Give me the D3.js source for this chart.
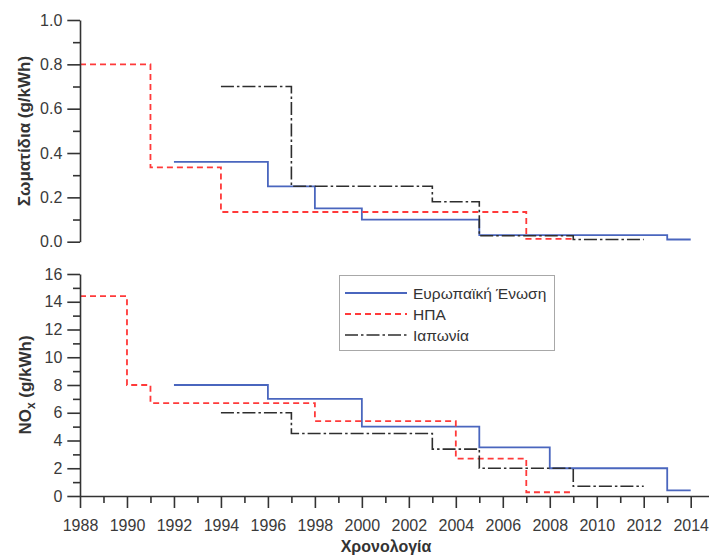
<!DOCTYPE html>
<html>
<head>
<meta charset="utf-8">
<script src="https://cdn.jsdelivr.net/npm/d3@7"></script>
<style>
  html, body { margin: 0; padding: 0; background: #fff; }
  svg { display: block; font-family: "Liberation Sans", Arial, sans-serif; }
</style>
</head>
<body>
<svg id="chart" width="709" height="556"></svg>
<script>
// Emission limits for heavy-duty diesel engines, step functions by year.
// Each series: years where a limit starts (last entry = end of last step) and the limit values.
const seriesNames = ["Ευρωπαϊκή Ένωση", "ΗΠΑ", "Ιαπωνία"];

// Particulate matter (g/kWh)
const pmYearsEU = [1992, 1996, 1998, 2000, 2005, 2013, 2014];
const pmValuesEU = [0.36, 0.25, 0.15, 0.10, 0.03, 0.01];
const pmYearsUS = [1988, 1991, 1994, 2007, 2009];
const pmValuesUS = [0.80, 0.335, 0.134, 0.013];
const pmYearsJP = [1994, 1997, 2003, 2005, 2009, 2012];
const pmValuesJP = [0.70, 0.25, 0.18, 0.027, 0.01];

// NOx (g/kWh)
const noxYearsEU = [1992, 1996, 2000, 2005, 2008, 2013, 2014];
const noxValuesEU = [8.0, 7.0, 5.0, 3.5, 2.0, 0.4];
const noxYearsUS = [1988, 1990, 1991, 1998, 2004, 2007, 2009];
const noxValuesUS = [14.4, 8.0, 6.7, 5.4, 2.7, 0.27];
const noxYearsJP = [1994, 1997, 2003, 2005, 2009, 2012];
const noxValuesJP = [6.0, 4.5, 3.38, 2.0, 0.7];

// Axis ticks
const yearTicksMajor = [1988, 1990, 1992, 1994, 1996, 1998, 2000, 2002, 2004, 2006, 2008, 2010, 2012, 2014];
const yearTicksMinor = [1989, 1991, 1993, 1995, 1997, 1999, 2001, 2003, 2005, 2007, 2009, 2011, 2013];
const pmTicksMajor = [0.0, 0.2, 0.4, 0.6, 0.8, 1.0];
const pmTicksMinor = [0.1, 0.3, 0.5, 0.7, 0.9];
const noxTicksMajor = [0, 2, 4, 6, 8, 10, 12, 14, 16];
const noxTicksMinor = [1, 3, 5, 7, 9, 11, 13, 15];

const styles = [
  { color: "#4a66be", dash: null, width: 1.8 },
  { color: "#ff3a3a", dash: "6,4", width: 1.8 },
  { color: "#2e2e2e", dash: "13,3,2.5,3", width: 1.6 }
];

const svg = d3.select("#chart");
const axisColor = "#333";

const x = d3.scaleLinear().domain([1988, 2014]).range([80, 690.7]);
const yPM = d3.scaleLinear().domain([0, 1]).range([241.7, 20]);
const yNOx = d3.scaleLinear().domain([0, 16]).range([496, 274]);

function stepPoints(years, values) {
  const pts = values.map((v, i) => [years[i], v]);
  pts.push([years[years.length - 1], values[values.length - 1]]);
  return pts;
}

function drawSeries(g, y, list) {
  const line = d3.line()
    .x(d => x(d[0]))
    .y(d => y(d[1]))
    .curve(d3.curveStepAfter);
  list.forEach((s, i) => {
    g.append("path")
      .attr("d", line(stepPoints(s[0], s[1])))
      .attr("fill", "none")
      .attr("stroke", styles[i].color)
      .attr("stroke-width", styles[i].width)
      .attr("stroke-dasharray", styles[i].dash)
      .attr("stroke-linejoin", "miter");
  });
}

function styleAxis(g) {
  g.selectAll("path.domain").attr("stroke", axisColor).attr("stroke-width", 1.6);
  g.selectAll(".tick line").attr("stroke", axisColor).attr("stroke-width", 1.6);
  g.selectAll(".tick text").attr("fill", "#3a3a3a").style("font-size", "16px")
    .style("font-family", "'Liberation Sans', Arial, sans-serif");
}

function yAxis(y, major, minor, fmt) {
  const gMin = svg.append("g").attr("transform", "translate(80,0)")
    .call(d3.axisLeft(y).tickValues(minor).tickSize(7).tickSizeOuter(0).tickFormat(""));
  styleAxis(gMin);
  gMin.select("path.domain").remove();
  const gMaj = svg.append("g").attr("transform", "translate(80,0)")
    .call(d3.axisLeft(y).tickValues(major).tickSize(12.7).tickSizeOuter(0).tickPadding(5).tickFormat(fmt));
  styleAxis(gMaj);
}

// Series (drawn first so axes sit on top)
drawSeries(svg.append("g"), yPM, [[pmYearsEU, pmValuesEU], [pmYearsUS, pmValuesUS], [pmYearsJP, pmValuesJP]]);
drawSeries(svg.append("g"), yNOx, [[noxYearsEU, noxValuesEU], [noxYearsUS, noxValuesUS], [noxYearsJP, noxValuesJP]]);

// Top panel axis
yAxis(yPM, pmTicksMajor, pmTicksMinor, d3.format(".1f"));
// Bottom panel axes
yAxis(yNOx, noxTicksMajor, noxTicksMinor, d3.format("d"));

const xExt = d3.scaleLinear().domain([1988, 2015]).range([80, 80 + (690.7 - 80) * 27 / 26]);
const gxMin = svg.append("g").attr("transform", "translate(0,496)")
  .call(d3.axisBottom(xExt).tickValues(yearTicksMinor).tickSize(7).tickSizeOuter(0).tickFormat(""));
styleAxis(gxMin);
gxMin.select("path.domain").remove();
const gxMaj = svg.append("g").attr("transform", "translate(0,496)")
  .call(d3.axisBottom(xExt).tickValues(yearTicksMajor).tickSize(12).tickSizeOuter(0).tickPadding(12).tickFormat(d3.format("d")));
styleAxis(gxMaj);

// Axis titles
svg.append("text")
  .attr("transform", "translate(30,131) rotate(-90)")
  .attr("text-anchor", "middle")
  .attr("fill", "#333")
  .style("font-weight", "bold").style("font-size", "17px")
  .text("Σωματίδια (g/kWh)");

const noxTitle = svg.append("text")
  .attr("transform", "translate(31,385) rotate(-90)")
  .attr("text-anchor", "middle")
  .attr("fill", "#333")
  .style("font-weight", "bold").style("font-size", "17px");
noxTitle.append("tspan").text("NO");
noxTitle.append("tspan").attr("dy", 4).style("font-size", "12px").text("x");
noxTitle.append("tspan").attr("dy", -4).text(" (g/kWh)");

svg.append("text")
  .attr("x", 386).attr("y", 552)
  .attr("text-anchor", "middle")
  .attr("fill", "#333")
  .style("font-weight", "bold").style("font-size", "16px")
  .text("Χρονολογία");

// Legend
const legend = svg.append("g");
legend.append("rect")
  .attr("x", 339.5).attr("y", 275.5).attr("width", 215).attr("height", 75)
  .attr("fill", "#fff").attr("stroke", "#a8a8a8").attr("stroke-width", 1);
seriesNames.forEach((name, i) => {
  const yy = 293 + i * 21;
  legend.append("line")
    .attr("x1", 345).attr("x2", 407).attr("y1", yy).attr("y2", yy)
    .attr("stroke", styles[i].color)
    .attr("stroke-width", styles[i].width)
    .attr("stroke-dasharray", styles[i].dash);
  legend.append("text")
    .attr("x", 413).attr("y", yy + 5.5)
    .attr("fill", "#333")
    .style("font-size", "15.5px")
    .text(name);
});
</script>
</body>
</html>
